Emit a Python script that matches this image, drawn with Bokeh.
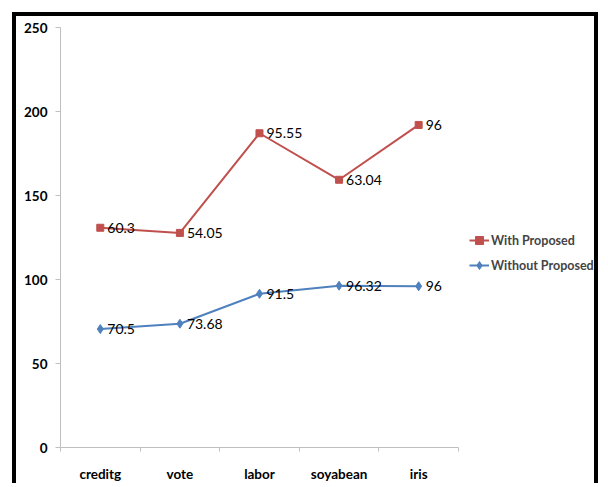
from bokeh.plotting import figure
from bokeh.models import Range1d, FixedTicker, Legend, LegendItem, ColumnDataSource
from bokeh.core.properties import value
from bokeh.embed import file_html
from bokeh.resources import INLINE

categories = ["creditg", "vote", "labor", "soyabean", "iris"]
without_proposed = [70.5, 73.68, 91.5, 96.32, 96]
with_proposed = [60.3, 54.05, 95.55, 63.04, 96]
y_ticks = [0, 50, 100, 150, 200, 250]

RED = "#C0504D"
BLUE = "#4F81BD"
AXIS_GRAY = "#bfbfbf"
FONT = "Lato"
LEGEND_SLOTS = 1.81  # extra room right of the axis, holding the legend

n = len(categories)
xs = list(range(n))
stacked = [a + b for a, b in zip(without_proposed, with_proposed)]

src_wo = ColumnDataSource(dict(x=xs, y=without_proposed,
                               label=[f"{v:g}" for v in without_proposed]))
src_w = ColumnDataSource(dict(x=xs, y=stacked,
                              label=[f"{v:g}" for v in with_proposed]))

p = figure(width=586, height=471,
           x_range=Range1d(-0.5, n - 0.5 + LEGEND_SLOTS), y_range=Range1d(0, 250),
           output_backend="svg", toolbar_location=None,
           min_border_left=44, min_border_right=0,
           min_border_top=11, min_border_bottom=40)
p.margin = (12, 0, 0, 12)
p.styles = {"border-left": "4px solid black", "border-top": "4px solid black",
            "border-right": "4px solid black"}

p.xgrid.visible = False
p.ygrid.visible = False
p.outline_line_color = None
p.background_fill_color = "white"
p.border_fill_color = "white"

# lines & markers
l_w = p.line("x", "y", source=src_w, color=RED, line_width=2)
m_w = p.scatter("x", "y", source=src_w, marker="square", size=7, color=RED)
l_wo = p.line("x", "y", source=src_wo, color=BLUE, line_width=2)
m_wo = p.scatter("x", "y", source=src_wo, marker="diamond", size=9, color=BLUE)

for src in (src_w, src_wo):
    p.text("x", "y", text="label", source=src, x_offset=7,
           text_baseline="middle", text_align="left",
           text_font=value(FONT), text_font_size="14px", text_color="black")

# x axis
xa = p.xaxis[0]
xa.bounds = (-0.5, n - 0.5)
xa.ticker = FixedTicker(ticks=xs, minor_ticks=[i - 0.5 for i in range(n + 1)])
xa.major_label_overrides = {i: c for i, c in enumerate(categories)}
xa.major_tick_out = 0
xa.major_tick_in = 0
xa.minor_tick_out = 4
xa.minor_tick_in = 0
xa.minor_tick_line_color = AXIS_GRAY
xa.axis_line_color = AXIS_GRAY
xa.major_label_standoff = 14
xa.major_label_text_font = FONT
xa.major_label_text_font_style = "bold"
xa.major_label_text_font_size = "13.5px"
xa.major_label_text_color = "black"

# y axis
ya = p.yaxis[0]
ya.ticker = FixedTicker(ticks=y_ticks, minor_ticks=[])
ya.major_tick_out = 5
ya.major_tick_in = 0
ya.major_tick_line_color = AXIS_GRAY
ya.axis_line_color = AXIS_GRAY
ya.major_label_standoff = 8
ya.major_label_text_font = FONT
ya.major_label_text_font_style = "bold"
ya.major_label_text_font_size = "13.5px"
ya.major_label_text_color = "black"

legend = Legend(items=[LegendItem(label="With Proposed", renderers=[l_w, m_w]),
                       LegendItem(label="Without Proposed", renderers=[l_wo, m_wo])],
                location=(409, 172), border_line_color=None,
                background_fill_alpha=0, padding=0, margin=0, spacing=5,
                label_standoff=2, glyph_width=20, glyph_height=20,
                label_text_font=FONT, label_text_font_style="bold",
                label_text_font_size="12.5px", label_height=20)
p.add_layout(legend)

open("out.html", "w").write(file_html(p, INLINE))
